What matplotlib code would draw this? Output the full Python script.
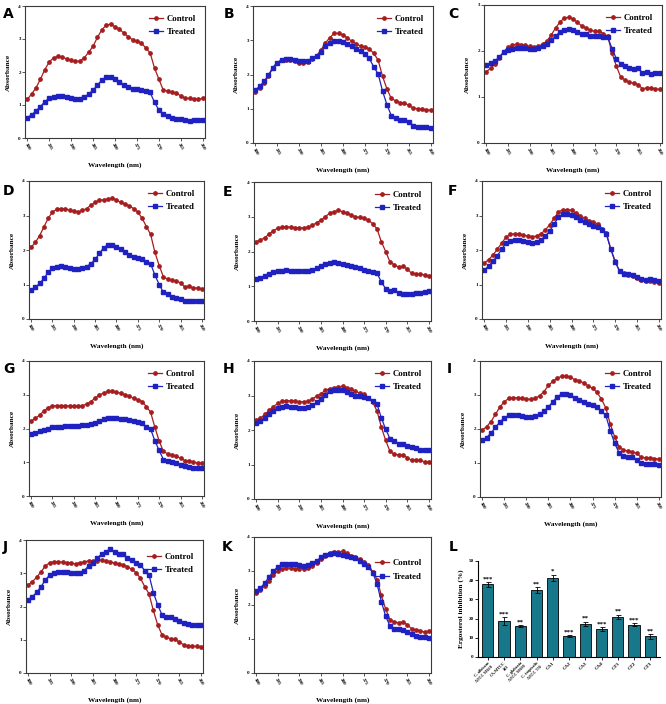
import matplotlib
matplotlib.use("Agg")
import matplotlib.pyplot as plt
import numpy as np

wavelength = np.arange(300, 259, -1)

a_control = [1.17, 1.33, 1.52, 1.78, 2.07, 2.30, 2.43, 2.47, 2.45, 2.40, 2.35, 2.32, 2.33, 2.43, 2.60, 2.78, 3.05, 3.28, 3.42, 3.45,
             3.37, 3.30, 3.18, 3.07, 2.98, 2.93, 2.88, 2.73, 2.58, 2.12, 1.78, 1.45, 1.42, 1.38, 1.35, 1.28, 1.20, 1.20, 1.18, 1.17, 1.20]
a_treated = [0.62, 0.70, 0.82, 0.95, 1.10, 1.20, 1.25, 1.27, 1.26, 1.23, 1.20, 1.18, 1.19, 1.24, 1.33, 1.45, 1.60, 1.76, 1.84, 1.85,
             1.80, 1.70, 1.62, 1.55, 1.50, 1.47, 1.45, 1.42, 1.38, 1.08, 0.85, 0.72, 0.68, 0.60, 0.57, 0.57, 0.54, 0.53, 0.54, 0.55, 0.55]
b_control = [1.48, 1.60, 1.75, 1.95, 2.18, 2.35, 2.42, 2.43, 2.42, 2.38, 2.35, 2.33, 2.37, 2.45, 2.55, 2.72, 2.92, 3.08, 3.20, 3.20,
             3.15, 3.07, 2.97, 2.90, 2.83, 2.80, 2.75, 2.62, 2.42, 1.95, 1.58, 1.30, 1.23, 1.18, 1.17, 1.10, 1.02, 1.00, 0.98, 0.97, 0.96]
b_treated = [1.55, 1.65, 1.80, 1.98, 2.20, 2.35, 2.42, 2.45, 2.45, 2.43, 2.40, 2.38, 2.40, 2.47, 2.55, 2.67, 2.82, 2.93, 2.98, 2.98,
             2.95, 2.90, 2.83, 2.75, 2.68, 2.60, 2.47, 2.22, 2.02, 1.52, 1.12, 0.80, 0.72, 0.68, 0.68, 0.62, 0.50, 0.48, 0.47, 0.46, 0.45]
c_control = [1.55, 1.62, 1.72, 1.85, 1.98, 2.08, 2.13, 2.15, 2.14, 2.12, 2.10, 2.08, 2.10, 2.15, 2.22, 2.35, 2.50, 2.63, 2.72, 2.73,
             2.70, 2.62, 2.55, 2.50, 2.45, 2.43, 2.43, 2.38, 2.32, 1.95, 1.67, 1.43, 1.37, 1.32, 1.30, 1.27, 1.18, 1.20, 1.20, 1.17, 1.17]
c_treated = [1.70, 1.73, 1.78, 1.87, 1.97, 2.02, 2.05, 2.06, 2.06, 2.06, 2.05, 2.05, 2.06, 2.10, 2.15, 2.23, 2.32, 2.42, 2.46, 2.48,
             2.45, 2.42, 2.38, 2.36, 2.33, 2.32, 2.33, 2.30, 2.30, 2.05, 1.83, 1.72, 1.68, 1.62, 1.60, 1.62, 1.53, 1.55, 1.50, 1.53, 1.52]
d_control = [2.08, 2.22, 2.42, 2.67, 2.92, 3.10, 3.18, 3.20, 3.20, 3.15, 3.13, 3.10, 3.15, 3.20, 3.30, 3.38, 3.45, 3.45, 3.48, 3.50,
             3.45, 3.38, 3.33, 3.28, 3.20, 3.10, 2.92, 2.68, 2.45, 1.93, 1.55, 1.22, 1.15, 1.12, 1.10, 1.05, 0.93, 0.95, 0.90, 0.90, 0.87]
d_treated = [0.83, 0.92, 1.03, 1.18, 1.35, 1.47, 1.52, 1.53, 1.52, 1.48, 1.46, 1.45, 1.47, 1.52, 1.60, 1.73, 1.90, 2.07, 2.15, 2.15,
             2.10, 2.02, 1.93, 1.85, 1.80, 1.77, 1.73, 1.65, 1.60, 1.27, 1.00, 0.77, 0.72, 0.65, 0.60, 0.57, 0.53, 0.52, 0.53, 0.52, 0.52]
e_control = [2.28, 2.33, 2.40, 2.50, 2.60, 2.67, 2.70, 2.71, 2.70, 2.69, 2.68, 2.68, 2.70, 2.75, 2.83, 2.90, 3.00, 3.10, 3.15, 3.18,
             3.15, 3.10, 3.05, 3.00, 2.98, 2.95, 2.90, 2.80, 2.65, 2.28, 2.00, 1.70, 1.62, 1.55, 1.57, 1.50, 1.37, 1.35, 1.35, 1.33, 1.30]
e_treated = [1.22, 1.25, 1.30, 1.35, 1.40, 1.43, 1.45, 1.46, 1.45, 1.44, 1.43, 1.43, 1.44, 1.48, 1.52, 1.58, 1.65, 1.68, 1.69, 1.68,
             1.65, 1.62, 1.58, 1.55, 1.52, 1.48, 1.45, 1.40, 1.38, 1.12, 0.93, 0.85, 0.90, 0.80, 0.77, 0.78, 0.78, 0.80, 0.82, 0.83, 0.85]
f_control = [1.62, 1.72, 1.85, 2.02, 2.20, 2.37, 2.45, 2.47, 2.46, 2.43, 2.40, 2.39, 2.40, 2.47, 2.58, 2.73, 2.92, 3.10, 3.17, 3.17,
             3.15, 3.08, 3.00, 2.92, 2.85, 2.82, 2.75, 2.62, 2.48, 2.03, 1.68, 1.38, 1.33, 1.28, 1.25, 1.20, 1.13, 1.10, 1.10, 1.07, 1.03]
f_treated = [1.42, 1.53, 1.67, 1.83, 2.02, 2.20, 2.27, 2.29, 2.28, 2.25, 2.22, 2.21, 2.22, 2.30, 2.40, 2.55, 2.75, 2.95, 3.05, 3.05,
             3.02, 2.95, 2.87, 2.80, 2.75, 2.70, 2.68, 2.57, 2.45, 2.02, 1.65, 1.40, 1.30, 1.30, 1.28, 1.22, 1.15, 1.12, 1.15, 1.12, 1.10]
g_control = [2.23, 2.30, 2.40, 2.52, 2.62, 2.67, 2.68, 2.68, 2.68, 2.67, 2.67, 2.67, 2.68, 2.72, 2.80, 2.90, 3.00, 3.05, 3.10, 3.10,
             3.07, 3.05, 3.00, 2.95, 2.90, 2.85, 2.80, 2.65, 2.48, 2.03, 1.63, 1.32, 1.25, 1.22, 1.18, 1.12, 1.05, 1.05, 1.00, 0.98, 0.97]
g_treated = [1.85, 1.88, 1.92, 1.96, 2.00, 2.03, 2.05, 2.05, 2.06, 2.06, 2.07, 2.08, 2.09, 2.10, 2.13, 2.17, 2.22, 2.27, 2.30, 2.30,
             2.30, 2.28, 2.27, 2.25, 2.22, 2.20, 2.15, 2.05, 1.98, 1.63, 1.35, 1.08, 1.05, 1.02, 0.98, 0.92, 0.88, 0.85, 0.82, 0.82, 0.82]
h_control = [2.28, 2.35, 2.45, 2.57, 2.68, 2.77, 2.83, 2.85, 2.85, 2.83, 2.82, 2.82, 2.83, 2.90, 2.98, 3.05, 3.15, 3.20, 3.22, 3.25,
             3.27, 3.23, 3.18, 3.12, 3.07, 3.05, 2.92, 2.80, 2.55, 2.08, 1.70, 1.38, 1.30, 1.28, 1.27, 1.20, 1.12, 1.12, 1.12, 1.08, 1.07]
h_treated = [2.20, 2.25, 2.35, 2.45, 2.55, 2.65, 2.68, 2.69, 2.68, 2.67, 2.65, 2.65, 2.68, 2.72, 2.80, 2.90, 3.02, 3.12, 3.15, 3.17,
             3.15, 3.10, 3.05, 3.00, 2.98, 2.95, 2.93, 2.85, 2.75, 2.35, 2.02, 1.75, 1.68, 1.60, 1.60, 1.53, 1.50, 1.47, 1.42, 1.43, 1.43]
i_control = [1.97, 2.07, 2.22, 2.43, 2.65, 2.80, 2.90, 2.92, 2.92, 2.90, 2.88, 2.87, 2.90, 2.98, 3.10, 3.28, 3.40, 3.50, 3.55, 3.55,
             3.52, 3.45, 3.42, 3.35, 3.27, 3.20, 3.08, 2.88, 2.62, 2.15, 1.77, 1.47, 1.38, 1.35, 1.33, 1.28, 1.17, 1.15, 1.15, 1.13, 1.12]
i_treated = [1.68, 1.75, 1.88, 2.05, 2.20, 2.33, 2.40, 2.40, 2.40, 2.38, 2.36, 2.35, 2.37, 2.43, 2.52, 2.65, 2.80, 2.95, 3.03, 3.03,
             3.00, 2.92, 2.85, 2.80, 2.73, 2.70, 2.65, 2.52, 2.40, 1.95, 1.58, 1.30, 1.22, 1.17, 1.17, 1.08, 1.00, 0.98, 0.97, 0.97, 0.95]
j_control = [2.65, 2.75, 2.88, 3.05, 3.22, 3.32, 3.35, 3.35, 3.33, 3.32, 3.30, 3.28, 3.32, 3.33, 3.38, 3.38, 3.38, 3.40, 3.38, 3.35,
             3.30, 3.28, 3.25, 3.20, 3.12, 3.02, 2.85, 2.60, 2.38, 1.88, 1.45, 1.15, 1.08, 1.03, 1.02, 0.93, 0.85, 0.82, 0.80, 0.80, 0.78]
j_treated = [2.20, 2.30, 2.43, 2.60, 2.80, 2.95, 3.02, 3.05, 3.05, 3.03, 3.00, 3.00, 3.02, 3.08, 3.22, 3.32, 3.45, 3.58, 3.65, 3.72,
             3.65, 3.57, 3.57, 3.47, 3.40, 3.32, 3.25, 3.08, 2.95, 2.42, 2.05, 1.75, 1.68, 1.68, 1.62, 1.57, 1.50, 1.47, 1.45, 1.45, 1.45]
k_control = [2.35, 2.45, 2.57, 2.72, 2.88, 3.00, 3.07, 3.10, 3.08, 3.07, 3.07, 3.07, 3.08, 3.15, 3.25, 3.35, 3.45, 3.53, 3.57, 3.55,
             3.58, 3.52, 3.45, 3.42, 3.35, 3.27, 3.18, 2.98, 2.75, 2.28, 1.88, 1.57, 1.50, 1.48, 1.50, 1.42, 1.30, 1.27, 1.25, 1.20, 1.23]
k_treated = [2.42, 2.50, 2.65, 2.82, 3.00, 3.12, 3.20, 3.22, 3.22, 3.20, 3.17, 3.15, 3.18, 3.23, 3.30, 3.40, 3.47, 3.50, 3.52, 3.50,
             3.48, 3.45, 3.42, 3.38, 3.30, 3.22, 3.12, 2.95, 2.62, 2.10, 1.67, 1.38, 1.30, 1.28, 1.27, 1.20, 1.15, 1.10, 1.05, 1.05, 1.02]

# panel L
strains = ["C. albicans\nATCC 90028", "CA-MTCC\n183", "C. glabrata\nATCC 90030", "C. tropicalis\nATCC 750",
           "CA1", "CA2", "CA3", "CA4", "CT1", "CT2", "CT3"]
inhibition = [37.8, 18.8, 16.0, 34.8, 41.3, 11.0, 17.4, 14.5, 20.9, 16.7, 10.8]
inhibition_err = [1.3, 2.0, 0.5, 1.5, 1.5, 0.4, 1.0, 1.0, 1.2, 0.8, 1.2]
signif = ["***", "***", "**", "**", "*", "***", "**", "***", "**", "***", "**"]

W, H = 666, 704
fig = plt.figure(figsize=(W / 100, H / 100), dpi=100)
serif = "Liberation Serif"
red = "#a51d1f"
blue = "#1f22c0"
spine_col = "#3a3a3a"


def px_axes(x0, y0, x1, y1):
    return fig.add_axes([x0 / W, 1 - y1 / H, (x1 - x0) / W, (y1 - y0) / H])


def letter(x, y, s):
    fig.text(x / W, 1 - y / H, s, fontsize=10, fontweight="bold", family="DejaVu Sans", va="top", ha="left")


panels = [
    ("A", a_control, a_treated, (25, 6, 205, 138), 4, (3, 7), 1.0),
    ("B", b_control, b_treated, (253, 6, 433, 143), 4, (224, 7), 1.0),
    ("C", c_control, c_treated, (484, 5, 662, 143), 3, (448, 7), 1.0),
    ("D", d_control, d_treated, (29, 181, 204, 319), 4, (3, 184), 1.0),
    ("E", e_control, e_treated, (254, 182, 431, 321), 4, (223, 185), 1.0),
    ("F", f_control, f_treated, (482, 181, 661, 319), 4, (448, 184), 1.0),
    ("G", g_control, g_treated, (29, 361, 204, 496), 4, (3, 362), 1.0),
    ("H", h_control, h_treated, (254, 361, 431, 499), 4, (223, 362), 1.0),
    ("I", i_control, i_treated, (480, 361, 661, 497), 4, (447, 362), 1.0),
    ("J", j_control, j_treated, (26, 540, 203, 673), 4, (3, 540), 0.97),
    ("K", k_control, k_treated, (254, 537, 431, 673), 4, (222, 540), 0.9),
]

for name, ctrl, trt, box, ytop, lpos, leg_y in panels:
    ax = px_axes(*box)
    ax.plot(wavelength, ctrl, color=red, lw=0.9, marker="o", ms=2.4, label="Control")
    ax.plot(wavelength, trt, color=blue, lw=0.9, marker="s", ms=2.3, label="Treated")
    ax.set_xlim(300.5, 259.5)
    ax.set_ylim(0, ytop)
    ax.set_xticks(np.arange(300, 259, -5))
    ax.set_yticks(np.arange(0, ytop + 1, 1))
    ax.tick_params(labelsize=3.6, length=2, width=0.6, pad=1, colors=spine_col)
    for lab in ax.get_xticklabels() + ax.get_yticklabels():
        lab.set_family(serif)
        lab.set_fontweight("bold")
        lab.set_color("black")
    for lab in ax.get_xticklabels():
        lab.set_rotation(-60)
    for sp in ax.spines.values():
        sp.set_color(spine_col)
        sp.set_linewidth(0.8)
    ax.set_xlabel("Wavelength (nm)", family=serif, fontweight="bold", fontsize=5.2, labelpad=8)
    ax.set_ylabel("Absorbance", family=serif, fontweight="bold", fontsize=5.2, labelpad=5)
    ax.legend(loc="upper right", bbox_to_anchor=(1.0, leg_y), frameon=False,
              prop={"family": serif, "weight": "bold", "size": 6.3},
              handlelength=1.6, handletextpad=0.5, labelspacing=0.6, borderaxespad=0.6)
    letter(*lpos, name)

# panel L
axl = px_axes(478, 561, 660, 657)
pos = np.arange(len(strains))
axl.bar(pos, inhibition, width=0.68, color="#18788b", edgecolor="black", linewidth=0.6,
        yerr=inhibition_err, error_kw=dict(ecolor="black", elinewidth=0.6, capsize=1.8, capthick=0.6))
for p, v, e, s in zip(pos, inhibition, inhibition_err, signif):
    axl.text(p, v + e + 0.4, s, ha="center", va="bottom", fontsize=5, fontweight="bold", family=serif)
axl.set_xlim(-0.6, len(strains) - 0.4)
axl.set_ylim(0, 50)
axl.set_yticks(np.arange(0, 51, 10))
axl.set_xticks(pos)
axl.set_xticklabels(strains, rotation=45, ha="right", rotation_mode="anchor")
axl.tick_params(labelsize=3.6, length=2, width=0.6, pad=1)
for lab in axl.get_xticklabels() + axl.get_yticklabels():
    lab.set_family(serif)
    lab.set_fontweight("bold")
for lab in axl.get_xticklabels()[:4]:
    lab.set_fontsize(3.0)
axl.spines["top"].set_visible(False)
axl.spines["right"].set_visible(False)
axl.spines["left"].set_linewidth(0.8)
axl.spines["bottom"].set_linewidth(0.8)
axl.set_ylabel("Ergosterol inhibition (%)", family=serif, fontweight="bold", fontsize=5.2, labelpad=3)
letter(449, 540, "L")

fig.savefig("out.png", dpi=100)
